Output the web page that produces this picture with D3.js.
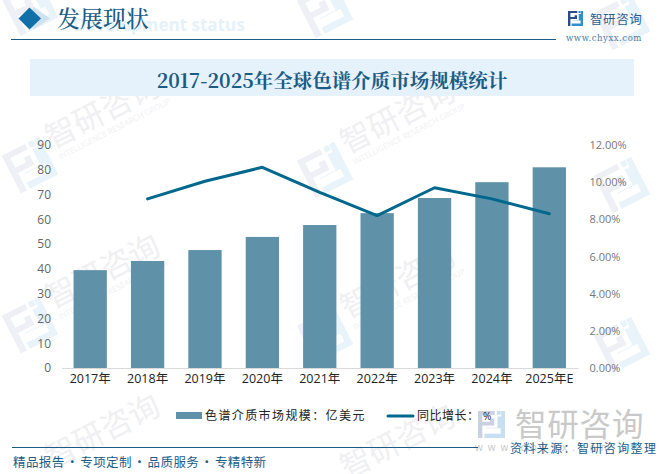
<!DOCTYPE html>
<html><head><meta charset="utf-8">
<script src="https://cdn.jsdelivr.net/npm/d3@7/dist/d3.min.js"></script>
<style>html,body{margin:0;padding:0;background:#fff}svg{display:block}</style></head>
<body><svg id="c" width="663" height="474"></svg>
<script>
const categories=["2017年","2018年","2019年","2020年","2021年","2022年","2023年","2024年","2025年E"];
const marketSize=[39.5,43.2,47.6,52.9,57.7,62.5,68.6,75,81];
const growth=[null,9.1,10.05,10.8,9.45,8.2,9.7,9.1,8.3];
const leftTicks=[0,10,20,30,40,50,60,70,80,90];
const rightTicks=[0,2,4,6,8,10,12];
const wmPositions=[[30,8],[325,10],[622,22],[30,165],[325,170],[622,185],[30,325],[325,335],[622,345],[30,485],[325,495]];

const svg=d3.select("#c");
const sans="'Noto Sans CJK SC','Noto Sans',sans-serif";
const latin="'Open Sans','Noto Sans CJK SC',sans-serif";
const serif="'Noto Serif CJK SC','DejaVu Serif','Noto Sans CJK SC',serif";
const dark="#1a5c85";

function logo(g,s,c1,c2){
  g.append("path").attr("fill",c1).attr("d",`M0 0H${s*.62}V${s*.14}H${s*.16}V${s*.4}H${s*.44}V${s*.28}H${s*.6}V${s*.54}H${s*.16}V${s}H0Z`);
  g.append("path").attr("fill",c2).attr("d",`M${s*.7} 0H${s*.84}V${s*.14}H${s*.7}ZM${s*.86} 0H${s}V${s}H${s*.24}V${s*.84}H${s*.84}V${s*.64}H${s*.3}V${s*.62}H${s*.72}V${s*.2}H${s*.86}Z`);
}
// background watermarks: the top row shows only its logo, the lower ones only their text
const wm=svg.append("g");
wmPositions.forEach(([x,y])=>{
  const g=wm.append("g").attr("transform",`translate(${x},${y}) rotate(-27)`);
  if(y<474) logo(g.append("g").attr("transform","translate(-21,-21)"),42,"#eef0f6","#e8f3fa");
  if(y>50&&x<600){
    g.append("text").attr("x",27).attr("y",-4).attr("font-family",sans).attr("font-size",31).attr("fill","#f0f0f2").text("智研咨询");
    if(y<474) g.append("text").attr("x",29).attr("y",9).attr("font-family",latin).attr("font-size",8).attr("fill","#f1f1f3").text("INTELLIGENCE RESEARCH GROUP");
  }
});

// header
svg.append("text").attr("x",73).attr("y",31).attr("font-family",latin).attr("font-weight",700).attr("font-size",17).attr("fill","#e6f2fb").text("Development status");
svg.append("path").attr("fill","#cfe2ef").attr("d","M34 7L50 18.500L34 29L24 18.500Z");
svg.append("path").attr("fill","#1170a8").attr("d","M29.500 7.500L41 18.500L29.500 29.500L18.500 18.500Z");
svg.append("text").attr("x",57).attr("y",27).attr("font-family",serif).attr("font-size",23).attr("font-weight",500).attr("fill",dark).text("发展现状");
svg.append("line").attr("x1",11).attr("x2",556).attr("y1",39.500).attr("y2",39.500).attr("stroke",dark).attr("stroke-width",1.2);
logo(svg.append("g").attr("transform","translate(568,11)"),15,"#2c4a86","#2f8fd0");
svg.append("text").attr("x",590).attr("y",24).attr("font-family",sans).attr("font-size",12.500).attr("letter-spacing",.6).attr("fill","#2b5f93").text("智研咨询");
svg.append("text").attr("x",566).attr("y",41).attr("font-family","'DejaVu Serif',serif").attr("font-size",8.500).attr("letter-spacing",.55).attr("fill","#4a7ca3").text("www.chyxx.com");

// title band
svg.append("rect").attr("x",30).attr("y",59).attr("width",604).attr("height",37).attr("fill","#e6f2fb");
svg.append("text").attr("x",332).attr("y",88).attr("text-anchor","middle").attr("font-family",serif).attr("font-weight",700).attr("font-size",19.500).attr("fill",dark).text("2017-2025年全球色谱介质市场规模统计");

// scales
const x=d3.scaleBand().domain(categories).range([61.500,578]).paddingInner(.42).paddingOuter(.21);
const yL=d3.scaleLinear().domain([0,90]).range([368,145]);
const yR=d3.scaleLinear().domain([0,12]).range([368,145]);
const barColor="#5f91a9", lineColor="#01688d";

svg.append("g").selectAll("rect").data(marketSize).join("rect")
  .attr("x",(d,i)=>x(categories[i])).attr("width",x.bandwidth())
  .attr("y",d=>yL(d)).attr("height",d=>yL(0)-yL(d)).attr("fill",barColor);

svg.append("path").datum(growth).attr("fill","none").attr("stroke",lineColor).attr("stroke-width",3).attr("stroke-linecap","round").attr("stroke-linejoin","round")
  .attr("d",d3.line().defined(d=>d!==null).x((d,i)=>x(categories[i])+x.bandwidth()/2).y(d=>yR(d)));

const ax=svg.append("g").attr("transform","translate(0,368)").call(d3.axisBottom(x).tickSize(0).tickPadding(6));
ax.select(".domain").attr("stroke","#d9d9d9").attr("stroke-width",1.2);
ax.selectAll("text").attr("font-family",latin).attr("font-size",12.500).attr("fill","#222");

const al=svg.append("g").attr("transform","translate(51,0)").call(d3.axisLeft(yL).tickValues(leftTicks).tickSize(0).tickPadding(0));
al.select(".domain").remove();
al.selectAll("text").attr("font-family",latin).attr("font-size",12).attr("fill","#666");

const ar=svg.append("g").attr("transform","translate(589.500,0)").call(d3.axisRight(yR).tickValues(rightTicks).tickFormat(d=>d.toFixed(2)+"%").tickSize(0).tickPadding(0));
ar.select(".domain").remove();
ar.selectAll("text").attr("font-family",latin).attr("font-size",11).attr("fill","#777");

// bottom-right large watermark
logo(svg.append("g").attr("transform","translate(478,411)"),27,"#c9d0e2","#c6e0f1");
svg.append("text").attr("x",515).attr("y",436).attr("font-family",sans).attr("font-size",31.500).attr("letter-spacing",.8).attr("fill","#c9c9c9").text("智研咨询");
svg.append("text").attr("x",475).attr("y",451).attr("font-family",latin).attr("font-size",10).attr("letter-spacing",5).attr("fill","#c9c9c9").text("www.chyxx.com");

// legend
svg.append("rect").attr("x",176).attr("y",412).attr("width",26).attr("height",7).attr("fill",barColor);
svg.append("text").attr("x",205).attr("y",420).attr("font-family",sans).attr("font-size",12).attr("letter-spacing",1.400).attr("fill","#222").text("色谱介质市场规模：亿美元");
svg.append("line").attr("x1",388).attr("x2",413).attr("y1",416).attr("y2",416).attr("stroke",lineColor).attr("stroke-width",3).attr("stroke-linecap","round");
svg.append("text").attr("x",417).attr("y",420).attr("font-family",sans).attr("font-size",12).attr("letter-spacing",.5).attr("fill","#222").text("同比增长：");
svg.append("text").attr("x",483).attr("y",420).attr("font-family",latin).attr("font-size",10).attr("fill","#222").text("%");

// footer
svg.append("line").attr("x1",12).attr("x2",478).attr("y1",447.500).attr("y2",447.500).attr("stroke",dark).attr("stroke-width",1);
svg.append("text").attr("x",13).attr("y",467).attr("font-family",sans).attr("font-size",12.500).attr("letter-spacing",.4).attr("word-spacing",-1.800).attr("fill",dark).text("精品报告 · 专项定制 · 品质服务 · 专精特新");
svg.append("text").attr("x",510).attr("y",453).attr("font-family",sans).attr("font-size",12).attr("letter-spacing",1.400).attr("fill",dark).text("资料来源：智研咨询整理");
</script></body></html>
